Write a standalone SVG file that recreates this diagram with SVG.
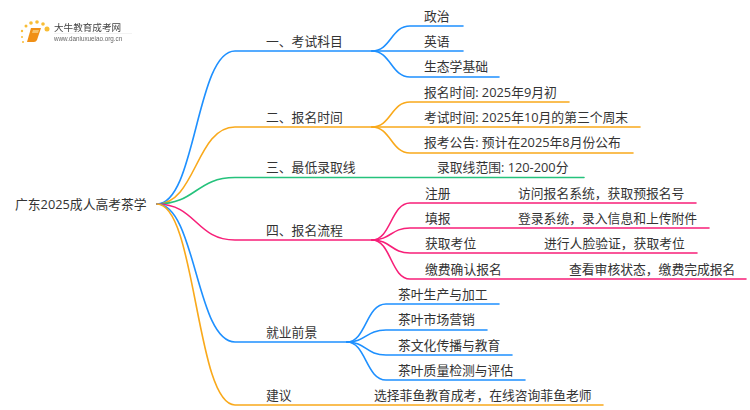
<svg xmlns="http://www.w3.org/2000/svg" width="750" height="410" viewBox="0 0 750 410">
<style>
text{font-family:"Open Sans","Noto Sans CJK SC",sans-serif;font-size:12.8px;fill:#333}
.c path{fill:none;stroke-width:1.6;stroke-linecap:round}
.b{stroke:#1e90ff}.y{stroke:#f9a91b}.g{stroke:#25c27c}.p{stroke:#f71f78}
</style>
<defs><filter id="soft" x="-10%" y="-30%" width="120%" height="160%"><feGaussianBlur stdDeviation="0.35"/></filter></defs>
<rect width="750" height="410" fill="#fff"/>
<g id="logo" filter="url(#soft)">
<g fill="#f8bd35"><circle cx="47" cy="29" r="2.500"/><circle cx="43" cy="24" r="1.800"/><circle cx="37" cy="22" r="1.800"/><circle cx="31" cy="23" r="1.800"/><circle cx="26" cy="26" r="1.500"/><circle cx="22" cy="31" r="1.200"/><circle cx="22" cy="37" r="1"/><circle cx="23" cy="42" r="1"/></g>
<path d="M31 28H41L37 40Q36 42 34 42H27Z" fill="#f09018"/><path d="M33 30H39L38 33H32Z" fill="#f6c26b"/>
<text x="54" y="31" style="font-size:9.600px;fill:#444">大牛教育成考网</text>
<text x="54" y="41" style="font-family:'Liberation Sans',sans-serif;font-size:6.300px;fill:#666">www.daniuxueiao.org.cn</text>
<path d="M54 33.500H132" stroke="#eee" stroke-width="0.700"/>
</g>
<g id="connectors" class="c">
<path class="b" d="M157 204C196 204 196 51 235 51H372"/>
<path class="y" d="M157 204C196 204 196 127 235 127H372"/>
<path class="g" d="M157 204C196 204 196 177.500 235 177.500H584"/>
<path class="p" d="M157 204C196 204 196 240 235 240H372"/>
<path class="b" d="M157 204C196 204 196 342 235 342H347"/>
<path class="y" d="M157 204C196 204 196 405 235 405H603"/>
<path class="b" d="M372 51C391 51 391 26 410 26H463"/><path class="b" d="M372 51H463"/><path class="b" d="M372 51C391 51 391 77 410 77H499"/>
<path class="y" d="M372 127C391 127 391 102 410 102H569"/><path class="y" d="M372 127H640"/><path class="y" d="M372 127C391 127 391 153 410 153H633"/>
<path class="p" d="M372 240C391 240 391 203 410 203H696"/><path class="p" d="M372 240C391 240 391 228 410 228H709"/><path class="p" d="M372 240C391 240 391 253 410 253H697"/><path class="p" d="M372 240C391 240 391 279 410 279H746"/>
<path class="b" d="M347 342C366 342 366 304 386 304H499"/><path class="b" d="M347 342C366 342 366 330 386 330H487"/><path class="b" d="M347 342C366 342 366 355 386 355H512"/><path class="b" d="M347 342C366 342 366 380 386 380H525"/>
</g>
<g id="root"><text x="15" y="209">广东2025成人高考茶学</text></g>
<g id="n1"><text x="266" y="46">一、考试科目</text></g>
<g id="n1a"><text x="424" y="21">政治</text></g>
<g id="n1b"><text x="424" y="46">英语</text></g>
<g id="n1c"><text x="424" y="71">生态学基础</text></g>
<g id="n2"><text x="266" y="122">二、报名时间</text></g>
<g id="n2a"><text x="424" y="97">报名时间: 2025年9月初</text></g>
<g id="n2b"><text x="424" y="122">考试时间: 2025年10月的第三个周末</text></g>
<g id="n2c"><text x="424" y="147">报考公告: 预计在2025年8月份公布</text></g>
<g id="n3"><text x="266" y="172">三、最低录取线</text></g>
<g id="n3a"><text x="437" y="172">录取线范围: 120-200分</text></g>
<g id="n4"><text x="266" y="235">四、报名流程</text></g>
<g id="n4a"><text x="425" y="198">注册</text><text x="518" y="198">访问报名系统，获取预报名号</text></g>
<g id="n4b"><text x="425" y="223">填报</text><text x="518" y="223">登录系统，录入信息和上传附件</text></g>
<g id="n4c"><text x="425" y="248">获取考位</text><text x="544" y="248">进行人脸验证，获取考位</text></g>
<g id="n4d"><text x="425" y="274">缴费确认报名</text><text x="569" y="274">查看审核状态，缴费完成报名</text></g>
<g id="n5"><text x="266" y="337">就业前景</text></g>
<g id="n5a"><text x="398" y="299">茶叶生产与加工</text></g>
<g id="n5b"><text x="398" y="324">茶叶市场营销</text></g>
<g id="n5c"><text x="398" y="350">茶文化传播与教育</text></g>
<g id="n5d"><text x="398" y="375">茶叶质量检测与评估</text></g>
<g id="n6"><text x="266" y="400">建议</text><text x="374" y="400">选择菲鱼教育成考，在线咨询菲鱼老师</text></g>
</svg>
